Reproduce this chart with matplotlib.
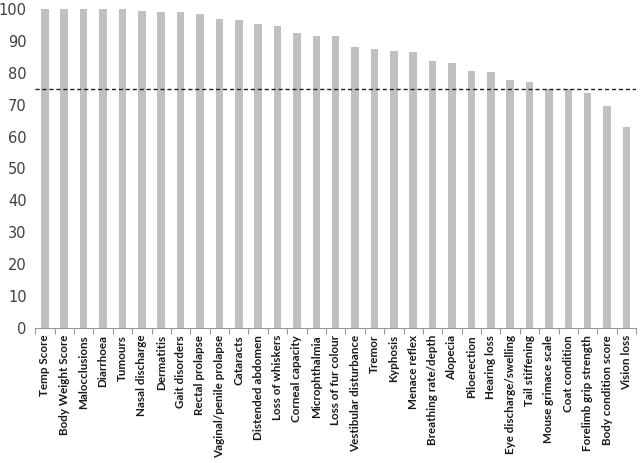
"""Percentage agreement per welfare parameter, bar chart with 75% threshold."""

import matplotlib
matplotlib.use("Agg")
import matplotlib.pyplot as plt
import numpy as np

PARAMS = [
    "Temp Score", "Body Weight Score", "Malocclusions", "Diarrhoea", "Tumours",
    "Nasal discharge", "Dermatitis", "Gait disorders", "Rectal prolapse",
    "Vaginal/penile prolapse", "Cataracts", "Distended abdomen", "Loss of whiskers",
    "Corneal capacity", "Microphthalmia", "Loss of fur colour", "Vestibular disturbance",
    "Tremor", "Kyphosis", "Menace reflex", "Breathing rate/depth", "Alopecia",
    "Piloerection", "Hearing loss", "Eye discharge/swelling", "Tail stiffening",
    "Mouse grimace scale", "Coat condition", "Forelimb grip strength",
    "Body condition score", "Vision loss",
]
AGREEMENT = [
    100, 100, 100, 100, 100,
    99.4, 99.0, 99.0, 98.4,
    97.0, 96.4, 95.2, 94.7,
    92.4, 91.6, 91.6, 88.2,
    87.6, 86.8, 86.4, 83.7, 83.1,
    80.7, 80.1, 77.6, 77.1,
    75.0, 75.0, 73.7,
    69.7, 63.1,
]
THRESHOLD = 75
YTICKS = list(range(0, 101, 10))

BAR_COLOR = "#bfc0c1"
TEXT_COLOR = "#404040"

fig = plt.figure(figsize=(6.4, 4.63), dpi=100)
ax = fig.add_axes([0.055, 0.2916, 0.939, 0.689])

x = np.arange(len(PARAMS))
ax.bar(x, AGREEMENT, width=0.39, color=BAR_COLOR, zorder=2)
ax.axhline(THRESHOLD, color="#222222", linestyle=(0, (3, 2)), linewidth=1.0, zorder=3)

ax.set_xlim(-0.5, len(PARAMS) - 0.5)
ax.set_ylim(0, 100)
ax.set_yticks(YTICKS)
ax.tick_params(axis="y", length=0, pad=6, labelsize=10.5, labelcolor=TEXT_COLOR)

ax.set_xticks(x)
ax.set_xticklabels(PARAMS, rotation=90, fontsize=8.4, fontweight="bold",
                   family="Lato", color="#1a1a1a")
ax.tick_params(axis="x", which="major", length=0, pad=5)
ax.set_xticks(np.arange(-0.5, len(PARAMS)), minor=True)
ax.tick_params(axis="x", which="minor", length=4, color="#999999", width=0.8)

for side in ("top", "right", "left"):
    ax.spines[side].set_visible(False)
ax.spines["bottom"].set_color("#999999")
ax.spines["bottom"].set_linewidth(0.8)

fig.savefig("out.png", dpi=100)
